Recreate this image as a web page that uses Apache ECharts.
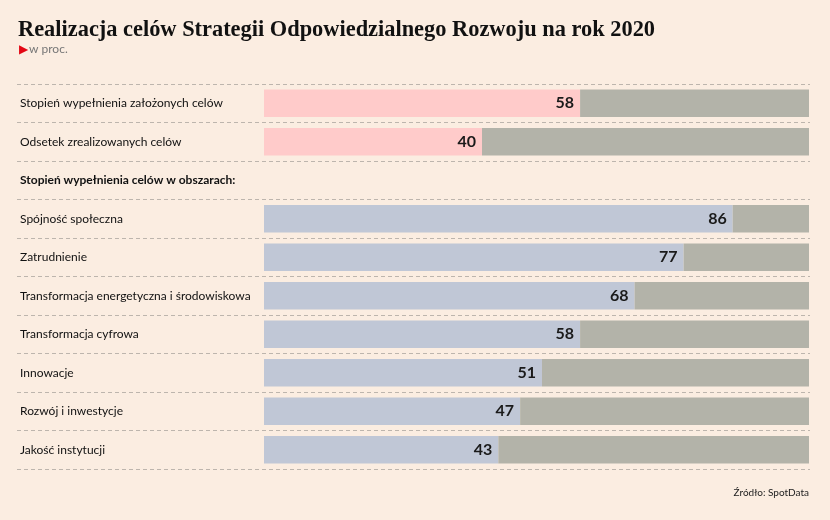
<!DOCTYPE html>
<html><head><meta charset="utf-8">
<script src="https://cdn.jsdelivr.net/npm/echarts@6/dist/echarts.min.js"></script>
<style>html,body{margin:0;padding:0;background:#fbede1;}#c{width:830px;height:520px;}</style>
</head><body><div id="c"></div>
<script>
const categories = [
  'Stopień wypełnienia założonych celów',
  'Odsetek zrealizowanych celów',
  'Stopień wypełnienia celów w obszarach:',
  'Spójność społeczna',
  'Zatrudnienie',
  'Transformacja energetyczna i środowiskowa',
  'Transformacja cyfrowa',
  'Innowacje',
  'Rozwój i inwestycje',
  'Jakość instytucji'
];
const values = [58, 40, null, 86, 77, 68, 58, 51, 47, 43];
const headerIndex = 2;
const pinkRows = [0, 1];
const total = 100;

const barColor = (i) => pinkRows.includes(i) ? '#ffcbca' : '#c0c7d6';
const valueData = values.map((v, i) => v == null ? null : { value: v, itemStyle: { color: barColor(i) } });
const restData = values.map(v => v == null ? null : total - v);

const chart = echarts.init(document.getElementById('c'));
chart.setOption({
  backgroundColor: '#fbede1',
  animation: false,
  title: [
    { text: 'Realizacja celów Strategii Odpowiedzialnego Rozwoju na rok 2020', left: 18, top: 19, padding: 0,
      textStyle: { fontFamily: 'Liberation Serif', fontWeight: 'bold', fontSize: 22.4, color: '#111' } },
    { text: '{tri|▶}w proc.', left: 19, top: 43, padding: 0,
      textStyle: { fontFamily: 'Lato', fontSize: 12, fontWeight: 'normal', color: '#777',
        rich: { tri: { color: '#e30613', fontSize: 12, fontWeight: 'normal', padding: [0, 1, 0, 0] } } } },
    { text: 'Źródło: SpotData', right: 21, top: 488, padding: 0,
      textStyle: { fontFamily: 'Liberation Sans Narrow, Lato', fontSize: 10, color: '#222', fontWeight: 'normal' } }
  ],
  grid: [
    { left: 17, right: 20, top: 84, bottom: 51 },
    { left: 264, right: 21, top: 84, bottom: 51 }
  ],
  xAxis: [
    { gridIndex: 0, type: 'value', min: 0, max: total, show: false },
    { gridIndex: 1, type: 'value', min: 0, max: total, show: false }
  ],
  yAxis: [
    { gridIndex: 0, type: 'category', data: categories, inverse: true,
      axisLine: { show: false }, axisTick: { show: false },
      splitLine: { show: true, lineStyle: { type: [4, 3], color: '#bdb5ad', width: 1 } },
      axisLabel: { inside: true, margin: 3, color: '#111', fontFamily: 'Lato', fontSize: 12,
        formatter: (v, i) => i === headerIndex ? '{b|' + v + '}' : v,
        rich: { b: { fontWeight: 'bold', fontFamily: 'Lato', fontSize: 12, color: '#111' } } } },
    { gridIndex: 1, type: 'category', data: categories, inverse: true, show: false }
  ],
  series: [
    { type: 'bar', xAxisIndex: 1, yAxisIndex: 1, stack: 's', data: valueData, barWidth: 27.5,
      label: { show: true, position: 'insideRight', distance: 6, color: '#1a1a1a',
        fontFamily: 'Lato', fontSize: 16, fontWeight: 'bold' } },
    { type: 'bar', xAxisIndex: 1, yAxisIndex: 1, stack: 's', data: restData, barWidth: 27.5,
      itemStyle: { color: '#b3b3a9' } }
  ]
});
</script></body></html>
